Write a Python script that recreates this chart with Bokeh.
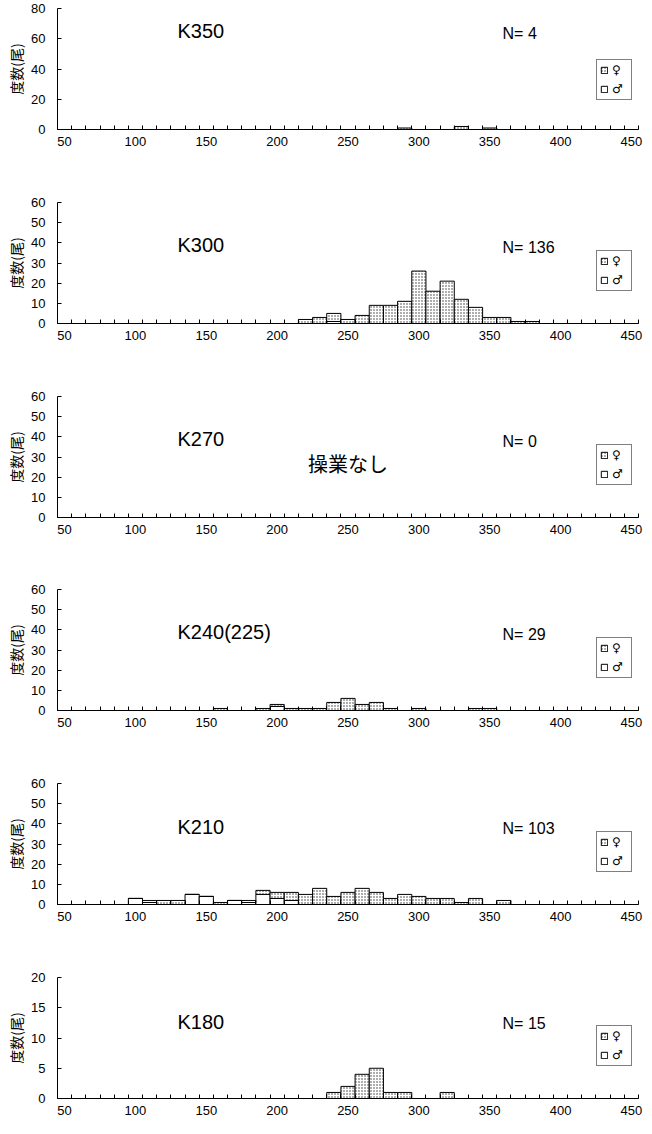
from bokeh.plotting import figure
from bokeh.models import (Range1d, FixedTicker, Label, Legend, LegendItem,
                          ColumnDataSource)
from bokeh.layouts import column
from bokeh.embed import file_html
from bokeh.resources import INLINE

# ---------------- data ----------------
titles = ["K350", "K300", "K270", "K240(225)", "K210", "K180"]
n_texts = ["N= 4", "N= 136", "N= 0", "N= 29", "N= 103", "N= 15"]
y_max = [80, 60, 60, 60, 60, 20]
y_step = [20, 10, 10, 10, 10, 5]
x_labels = ["50", "100", "150", "200", "250", "300", "350", "400", "450"]
categories = list(range(50, 451, 10))   # length classes 50 .. 450 (mm)
y_title = "度数(尾)"
legend_labels = ["♀", "♂"]
no_op_text = "操業なし"

# bin start (mm) / counts female / counts male
k350_bins = [290, 330, 350]
k350_female = [1, 2, 1]
k350_male = [0, 0, 0]

k300_bins = [220, 230, 240, 250, 260, 270, 280, 290, 300, 310, 320, 330, 340,
             350, 360, 370, 380]
k300_female = [2, 3, 4, 2, 4, 9, 9, 11, 26, 16, 21, 12, 8, 3, 3, 1, 1]
k300_male = [0, 0, 1, 0, 0, 0, 0, 0, 0, 0, 0, 0, 0, 0, 0, 0, 0]

k270_bins = []
k270_female = []
k270_male = []

k240_bins = [160, 190, 200, 210, 220, 230, 240, 250, 260, 270, 280, 300, 340, 350]
k240_female = [1, 1, 1, 1, 1, 1, 4, 6, 3, 4, 1, 1, 1, 1]
k240_male = [0, 0, 2, 0, 0, 0, 0, 0, 0, 0, 0, 0, 0, 0]

k210_bins = [100, 110, 120, 130, 140, 150, 160, 170, 180, 190, 200, 210, 220,
             230, 240, 250, 260, 270, 280, 290, 300, 310, 320, 330, 340, 360]
k210_female = [0, 1, 2, 2, 0, 0, 1, 0, 1, 2, 3, 4, 5, 8, 4, 6, 8, 6, 3, 5, 4,
               3, 3, 1, 3, 2]
k210_male = [3, 1, 0, 0, 5, 4, 0, 2, 1, 5, 3, 2, 0, 0, 0, 0, 0, 0, 0, 0, 0,
             0, 0, 0, 0, 0]

k180_bins = [240, 250, 260, 270, 280, 290, 320]
k180_female = [1, 2, 4, 5, 1, 1, 1]
k180_male = [0, 0, 0, 0, 0, 0, 0]

panels = [
    (k350_bins, k350_female, k350_male),
    (k300_bins, k300_female, k300_male),
    (k270_bins, k270_female, k270_male),
    (k240_bins, k240_female, k240_male),
    (k210_bins, k210_female, k210_male),
    (k180_bins, k180_female, k180_male),
]

# ---------------- layout / style ----------------
BIN_W = 10
X0, X1 = 50, 460
FRAME_H = 121
FIG_W = 644
heights = [194, 194, 193, 194, 194, 149]
title_fy = [0.81, 0.65, 0.65, 0.65, 0.64, 0.63]
n_fy = [0.79, 0.63, 0.63, 0.63, 0.63, 0.62]
legend_y = [29, 32, 32, 32, 32, 32]
TITLE_FX = 0.2065
N_FX = 0.766
NUM_FONT = "Liberation Sans"
JP_FONT = "Noto Sans CJK JP"

figs = []
for i, (bins, fem, mal) in enumerate(panels):
    h = heights[i]
    top_b = 8
    bottom_b = h - top_b - FRAME_H
    p = figure(width=FIG_W, height=h, output_backend="svg",
               toolbar_location=None, x_range=Range1d(X0, X1),
               y_range=Range1d(0, y_max[i]),
               min_border_left=57, min_border_right=6,
               min_border_top=top_b, min_border_bottom=bottom_b)
    p.outline_line_color = None
    p.xgrid.visible = False
    p.ygrid.visible = False
    p.background_fill_color = "white"
    p.border_fill_color = "white"

    # x axis: labels at class centres, tick marks at class boundaries
    centers = [int(s) + BIN_W / 2 for s in x_labels]
    xt = FixedTicker(ticks=centers,
                     minor_ticks=list(range(X0, X1 + 1, BIN_W)))
    p.xaxis.ticker = xt
    p.xaxis.major_label_overrides = {c: s for c, s in zip(centers, x_labels)}
    p.xaxis.major_tick_in = 0
    p.xaxis.major_tick_out = 0
    p.xaxis.minor_tick_in = 4
    p.xaxis.minor_tick_out = 0
    p.xaxis.major_label_standoff = 7
    p.xaxis.major_label_text_font = NUM_FONT
    p.xaxis.major_label_text_font_size = "13px"
    p.xaxis.major_label_text_color = "black"
    p.xaxis.axis_line_color = "black"
    p.xaxis.minor_tick_line_color = "black"

    yt = FixedTicker(ticks=list(range(0, y_max[i] + 1, y_step[i])),
                     minor_ticks=[])
    p.yaxis.ticker = yt
    p.yaxis.major_tick_in = 4
    p.yaxis.major_tick_out = 0
    p.yaxis.minor_tick_in = 0
    p.yaxis.minor_tick_out = 0
    p.yaxis.major_label_standoff = 12
    p.yaxis.major_label_text_font = NUM_FONT
    p.yaxis.major_label_text_font_size = "13px"
    p.yaxis.major_label_text_color = "black"
    p.yaxis.axis_line_color = "black"
    p.yaxis.major_tick_line_color = "black"
    p.yaxis.axis_label = y_title
    p.yaxis.axis_label_text_font = JP_FONT
    p.yaxis.axis_label_text_font_size = "14px"
    p.yaxis.axis_label_text_font_style = "normal"
    p.yaxis.axis_label_text_color = "black"
    p.yaxis.axis_label_standoff = 2

    # counts on the full class list (0 where no fish)
    fmap = dict(zip(bins, fem))
    mmap = dict(zip(bins, mal))
    src = ColumnDataSource(dict(
        x=[c + BIN_W / 2 for c in categories],
        male=[mmap.get(c, 0) for c in categories],
        female=[fmap.get(c, 0) for c in categories]))
    rs = p.vbar_stack(["male", "female"], x="x", width=BIN_W, source=src,
                      fill_color=["white", "white"],
                      line_color="black", line_width=1,
                      hatch_pattern=[" ", "dot"],
                      hatch_color="#333333", hatch_scale=3, hatch_weight=1)

    leg = Legend(items=[LegendItem(label=legend_labels[0], renderers=[rs[1]],
                                   index=0),
                        LegendItem(label=legend_labels[1], renderers=[rs[0]],
                                   index=0)],
                 location=(539, legend_y[i]), orientation="vertical",
                 border_line_color="black", border_line_width=1,
                 background_fill_color="white", background_fill_alpha=1,
                 label_text_font="DejaVu Sans", label_text_font_size="12px",
                 label_text_color="black", label_text_line_height=1.0,
                 glyph_width=8, glyph_height=8, label_height=13,
                 label_width=16, label_standoff=4, spacing=5, padding=3,
                 margin=0)
    p.add_layout(leg, "center")

    p.add_layout(Label(x=X0 + TITLE_FX * (X1 - X0), y=title_fy[i] * y_max[i],
                       text=titles[i], text_font=NUM_FONT,
                       text_font_size="20px", text_baseline="middle",
                       text_color="black"))
    p.add_layout(Label(x=X0 + N_FX * (X1 - X0), y=n_fy[i] * y_max[i],
                       text=n_texts[i], text_font=NUM_FONT,
                       text_font_size="16px", text_baseline="middle",
                       text_color="black"))
    if len(bins) == 0:
        p.add_layout(Label(x=255, y=0.45 * y_max[i], text=no_op_text,
                           text_font=JP_FONT, text_font_size="20px",
                           text_align="center", text_baseline="middle",
                           text_color="black"))
    figs.append(p)

layout = column(*figs, spacing=0)
open("out.html", "w").write(file_html(layout, INLINE))
